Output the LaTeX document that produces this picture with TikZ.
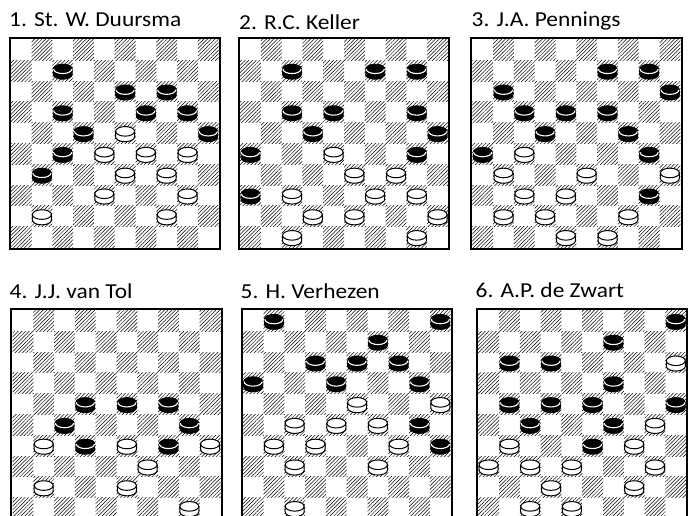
\documentclass[tikz,border=0pt]{standalone}
\usepackage{fontspec}
\setmainfont{Carlito}[FakeStretch=1.1]
\usetikzlibrary{patterns.meta}
\def\sq{20.8}
\tikzset{
  hatch/.style={pattern={Lines[angle=45,distance=2.6pt,line width=0.5pt]},pattern color=black},
  frame/.style={draw=black,line width=2pt},
  title/.style={anchor=base west,inner sep=0pt,font=\fontsize{21.3}{25}\selectfont},
  bman/.pic={
    \path[fill=black,draw=black,line width=0.8pt] (-9.5,-2.75) arc[start angle=180,end angle=0,x radius=9.5pt,y radius=4.8pt] -- (9.5,2.75) arc[start angle=0,end angle=-180,x radius=9.5pt,y radius=4.8pt] -- cycle;
    \draw[white,line width=1.1pt] (-9.1,-2.75) arc[start angle=180,end angle=360,x radius=9.1pt,y radius=4.6pt];
  },
  wman/.pic={
    \path[fill=white,draw=black,line width=1pt] (-9.5,-2.75) arc[start angle=180,end angle=0,x radius=9.5pt,y radius=4.8pt] -- (9.5,2.75) arc[start angle=0,end angle=-180,x radius=9.5pt,y radius=4.8pt] -- cycle;
    \draw[black,line width=1pt] (-9.5,-2.75) arc[start angle=180,end angle=360,x radius=9.5pt,y radius=4.8pt];
  }
}
\newcommand{\Brd}[4]{%
 \begin{scope}[shift={(#1,#2)}]
  \foreach \r in {0,...,9}{\foreach \c in {0,...,9}{%
    \pgfmathtruncatemacro{\od}{mod(\r+\c,2)}%
    \ifnum\od=1 \path[hatch] (\c*\sq,\r*\sq) rectangle ++(\sq,\sq);\fi}}
  \draw[frame] (-1.2,-1.2) rectangle ({10*\sq+1.2},{10*\sq+1.2});
  \foreach \r/\c in {#3} \pic at ({(\c+0.5)*\sq},{\r*\sq+11.4}) {bman};
  \foreach \r/\c in {#4} \pic at ({(\c+0.5)*\sq},{\r*\sq+11.4}) {wman};
 \end{scope}}
\begin{document}
\begin{tikzpicture}[x=1pt,y=-1pt]
\useasboundingbox (0,0) rectangle (691,515);
\clip (0,0) rectangle (691,515);
\fill[white] (0,0) rectangle (691,515);
\node[title] (t1) at (9,26.7) {1. St. W. Duursma};
\node[title] (t2) at (239,29.3) {2. R.C. Keller};
\node[title] (t3) at (471.5,26.7) {3. J.A. Pennings};
\node[title] (t4) at (9.5,298.3) {4. J.J. van Tol};
\node[title] (t5) at (240.5,298.3) {5. H. Verhezen};
\node[title] (t6) at (475.5,297.3) {6. A.P. de Zwart};
\Brd{10.7}{39.5}{1/2,2/5,2/7,3/2,3/6,3/8,4/3,4/9,5/2,6/1}{4/5,5/4,5/6,5/8,6/5,6/7,7/4,7/8,8/1,8/7}
\Brd{240}{39.5}{1/2,1/6,1/8,3/2,3/4,3/8,4/3,4/9,5/0,5/8,7/0}{5/4,6/5,6/7,7/2,7/6,7/8,8/3,8/5,8/9,9/2,9/8}
\Brd{472.3}{39.5}{1/6,1/8,2/1,2/9,3/2,3/4,3/6,4/3,4/7,5/0,5/8,7/8}{5/2,6/1,6/5,6/9,7/2,7/4,8/1,8/3,8/7,9/4,9/6}
\Brd{12.5}{310.5}{4/3,4/5,4/7,5/2,5/8,6/3,6/7}{6/1,6/5,6/9,7/6,8/1,8/5,9/8}
\Brd{242.7}{310.5}{0/1,0/9,1/6,2/3,2/5,2/7,3/0,3/4,3/8,5/8,6/9}{4/5,4/9,5/2,5/4,5/6,6/1,6/3,6/7,7/2,7/6,9/2}
\Brd{478.2}{310.5}{0/9,1/6,2/1,2/3,3/6,4/1,4/3,4/5,4/9,5/2,5/6,6/5}{2/9,5/8,6/1,6/7,7/0,7/2,7/4,7/8,8/3,8/7,9/2,9/4}
\end{tikzpicture}
\end{document}
